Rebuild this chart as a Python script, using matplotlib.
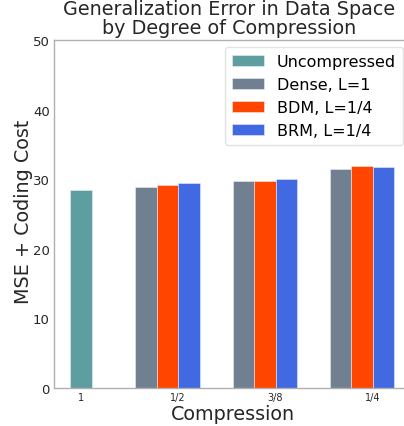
import matplotlib
matplotlib.use("Agg")
import matplotlib.pyplot as plt
import numpy as np

plt.rcParams["font.family"] = ["DejaVu Sans"]

groups = ["1/2", "3/8", "1/4"]
tick_labels = ["1", "1/2", "3/8", "1/4"]
uncompressed = [28.4]
dense = [28.9, 29.7, 31.5]
bdm = [29.1, 29.8, 31.85]
brm = [29.4, 30.1, 31.75]

series_names = ["Uncompressed", "Dense, L=1", "BDM, L=1/4", "BRM, L=1/4"]
colors = ["#5F9EA0", "#708090", "#FF4500", "#4169E1"]

fig = plt.figure(figsize=(4.04, 4.27), dpi=100)
ax = fig.add_axes([54/404, 38/427, 360/404, 348/427])

w = 0.22
x = np.arange(1, len(groups) + 1)
ekw = dict(edgecolor="#e8eefc", linewidth=0.4)
ax.bar([0], uncompressed, w * 1.02, color=colors[0], label=series_names[0], **ekw)
ax.bar(x - 1.5 * w, dense, w, color=colors[1], label=series_names[1], **ekw)
ax.bar(x - 0.5 * w, bdm, w, color=colors[2], label=series_names[2], **ekw)
ax.bar(x + 0.5 * w, brm, w, color=colors[3], label=series_names[3], **ekw)

ax.set_xlim(-0.277, 3.423)
ax.set_ylim(0, 50)
ax.set_xticks([0, 1, 2, 3])
ax.set_xticklabels(tick_labels, fontsize=7, color="#262626")
ax.set_yticks([0, 10, 20, 30, 40, 50])
ax.tick_params(axis="y", labelsize=9.5, colors="#262626", length=0, pad=3)
ax.tick_params(axis="x", length=0, pad=3)
for s in ax.spines.values():
    s.set_color("#b0b0b0")
    s.set_linewidth(1.0)

ax.set_xlabel("Compression", fontsize=13.8, color="#262626")
ax.xaxis.set_label_coords(0.497, -0.045)
ax.set_ylabel("MSE + Coding Cost", fontsize=13.8, color="#262626")
ax.yaxis.set_label_coords(-0.058, 0.51)
ax.set_title("Generalization Error in Data Space\nby Degree of Compression",
             fontsize=13.8, color="#262626", linespacing=1.0, pad=5, x=0.486)

leg = ax.legend(loc="upper right", fontsize=11.5, frameon=True, fancybox=True,
                handlelength=2.0, handleheight=0.6, borderpad=0.45, labelspacing=0.5,
                borderaxespad=0)
leg.set_bbox_to_anchor((403/404, 379/427), transform=fig.transFigure)
leg.get_frame().set_edgecolor("#dddddd")

fig.savefig("out.png", dpi=100)
